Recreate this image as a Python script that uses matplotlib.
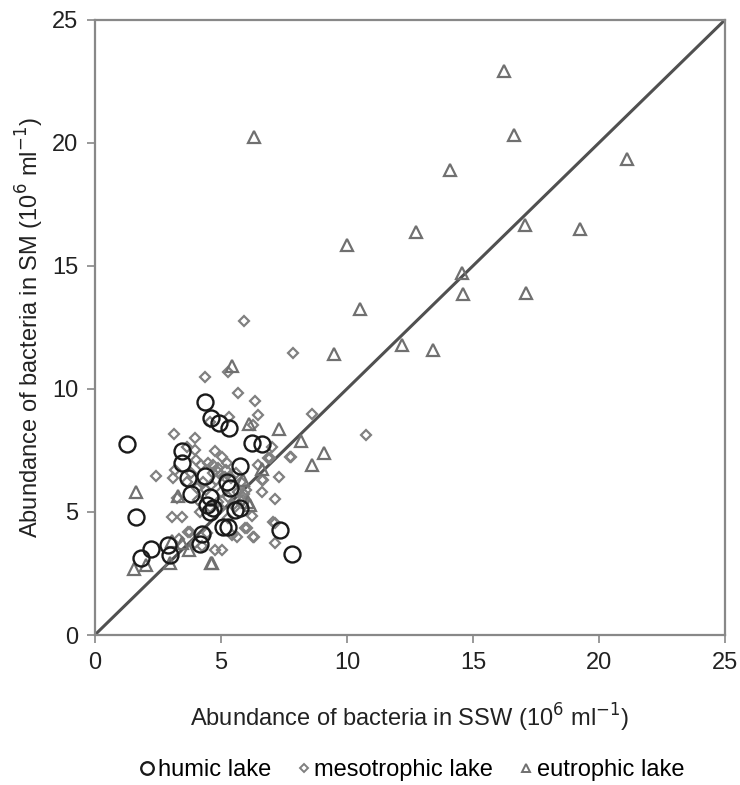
import matplotlib
matplotlib.use('Agg')
import matplotlib.pyplot as plt

plt.rcParams['font.family'] = ['Liberation Sans', 'DejaVu Sans']

# humic lake (circles)
humic_x = [1.27, 1.63, 1.83, 2.24, 2.92, 3.0, 3.45, 3.45, 3.7, 3.8, 4.37, 4.6, 4.92,
           5.34, 5.75, 6.25, 6.65, 4.37, 4.56, 4.7, 5.24, 5.55, 5.28, 4.25, 7.34, 7.84,
           4.44, 4.56, 5.36, 5.08, 5.75, 4.17]
humic_y = [7.75, 4.78, 3.13, 3.48, 3.66, 3.27, 7.48, 7.0, 6.38, 5.72, 9.45, 8.8, 8.6,
           8.4, 6.85, 7.8, 7.75, 6.45, 5.62, 5.16, 6.2, 5.08, 4.4, 4.12, 4.25, 3.3,
           5.28, 5.0, 5.98, 4.39, 5.16, 3.7]

# mesotrophic lake (diamonds)
meso_x = [5.91, 7.86, 10.75, 8.61, 7.78, 5.68, 6.35, 6.47, 5.32, 4.56, 5.28, 4.37,
          3.13, 3.97, 3.65, 3.97, 4.76, 5.04, 5.24, 2.42, 3.17, 3.1, 3.25, 3.06, 3.45,
          3.77, 3.97, 5.04, 7.02, 6.94, 7.74, 7.3, 6.63, 7.14, 6.63, 6.23, 6.3, 7.14,
          7.14, 6.03, 5.63, 6.27, 6.87, 6.47, 6.67, 4.68, 4.88, 5.16, 3.65, 4.05, 4.17,
          4.56, 3.69, 4.44, 4.76, 5.95, 5.44, 5.87, 5.55, 4.96, 5.28, 6.27, 7.06,
          4.2, 4.5, 4.7, 4.9, 5.0, 5.2, 4.3, 4.6, 4.8, 5.4, 5.6, 5.8, 5.0, 4.4, 5.3,
          5.7, 4.1, 4.9, 5.5, 6.0, 3.8, 4.0, 3.35, 4.25, 5.9]
meso_y = [12.76, 11.46, 8.13, 9.0, 7.24, 9.84, 9.5, 8.94, 8.86, 8.66, 10.69, 10.5,
          8.17, 8.0, 7.64, 7.52, 7.48, 7.24, 7.0, 6.46, 6.7, 6.38, 5.57, 4.8, 4.8,
          4.19, 3.74, 3.46, 7.64, 7.2, 7.24, 6.42, 6.3, 5.53, 5.8, 4.84, 4.0, 4.55,
          3.74, 4.35, 4.0, 8.54, 7.2, 6.91, 6.3, 6.9, 6.63, 6.42, 6.22, 5.98, 5.0,
          5.2, 4.19, 4.15, 3.46, 4.35, 4.07, 5.49, 5.2, 5.16, 4.76, 3.98, 4.59,
          6.9, 7.0, 6.6, 6.8, 6.5, 6.7, 6.2, 6.1, 6.3, 6.4, 6.6, 6.2, 5.8, 5.9, 5.6,
          5.8, 5.5, 5.4, 5.3, 5.9, 6.6, 7.1, 3.9, 3.6, 5.75]

# eutrophic lake (triangles)
eu_x = [16.23, 6.31, 16.63, 14.09, 21.11, 10.0, 12.74, 17.06, 19.25, 14.56, 14.6,
        17.1, 10.52, 12.18, 13.41, 9.48, 5.44, 7.3, 6.11, 8.19, 9.09, 8.61, 1.63,
        1.55, 2.02, 2.98, 3.06, 3.45, 3.73, 4.6, 3.29, 6.07, 5.87, 6.63, 6.15, 4.64]
eu_y = [22.93, 20.24, 20.33, 18.9, 19.35, 15.85, 16.38, 16.67, 16.5, 14.72, 13.86,
        13.9, 13.25, 11.79, 11.59, 11.42, 10.93, 8.37, 8.56, 7.87, 7.4, 6.91, 5.8,
        2.68, 2.85, 2.93, 3.84, 3.74, 3.46, 2.93, 5.65, 5.41, 6.3, 6.75, 5.28, 2.93]

fig = plt.figure(figsize=(7.4, 7.85), dpi=100)
ax = fig.add_axes([0.128, 0.191, 0.852, 0.784])

ax.plot([0, 25], [0, 25], color='#505050', lw=2.2, zorder=1)

ax.plot(meso_x, meso_y, 'D', ms=5.2, mfc='none', mec='#808080', mew=1.6,
        label='mesotrophic lake', zorder=2)
ax.plot(eu_x, eu_y, '^', ms=8, mfc='none', mec='#707070', mew=1.6,
        label='eutrophic lake', zorder=2)
ax.plot(humic_x, humic_y, 'o', ms=11.5, mfc='none', mec='#1a1a1a', mew=1.7,
        label='humic lake', zorder=3)

ax.set_xlim(0, 25)
ax.set_ylim(0, 25)
ax.set_xticks([0, 5, 10, 15, 20, 25])
ax.set_yticks([0, 5, 10, 15, 20, 25])
for s in ax.spines.values():
    s.set_color('#888888')
    s.set_linewidth(1.6)
ax.tick_params(direction='out', length=6, width=1.2, color='#888888',
               labelsize=17, labelcolor='#222222', pad=6)

ax.set_xlabel('Abundance of bacteria in SSW (10$^6$ ml$^{-1}$)', fontsize=17,
              color='#222222', labelpad=20)
ax.set_ylabel('Abundance of bacteria in SM (10$^6$ ml$^{-1}$)', fontsize=17,
              color='#222222', labelpad=4)

h, l = ax.get_legend_handles_labels()
order = [2, 0, 1]
leg = fig.legend([h[i] for i in order], [l[i] for i in order], loc='center',
                 bbox_to_anchor=(0.557, 0.019), ncol=3, frameon=False, fontsize=17,
                 handlelength=0.6, handletextpad=0.15, columnspacing=1.1)
for hd in leg.legend_handles:
    m = hd.get_marker()
    if m == 'D':
        hd.set_markersize(3.6)
        hd.set_markeredgewidth(1.4)
    elif m == '^':
        hd.set_markersize(6)
        hd.set_markeredgewidth(1.4)
    else:
        hd.set_markersize(9)

fig.savefig('out.png', dpi=100)
